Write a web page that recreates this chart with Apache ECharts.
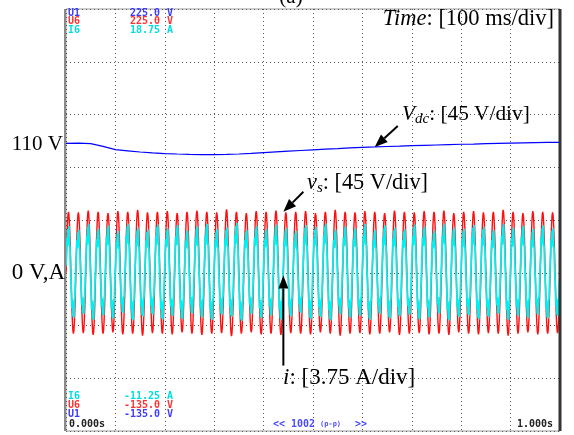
<!DOCTYPE html>
<html>
<head>
<meta charset="utf-8">
<script src="https://cdn.jsdelivr.net/npm/echarts@6/dist/echarts.min.js"></script>
<style>
  html, body { margin: 0; padding: 0; background: #ffffff; }
  #chart { width: 574px; height: 435px; }
</style>
</head>
<body>
<div id="chart"></div>
<script>
// Screen: 10 time divisions of 100 ms, 8 vertical divisions
const timeRangeMs = [0, 1000];
const timeDivMs = 100;
const voltRange = [-135, 225];     // U1 (Vdc) and U6 (vs), 45 V/div
const voltDiv = 45;
const currentRange = [-11.25, 18.75]; // I6 (i), 3.75 A/div
const currentDiv = 3.75;

// One 50 Hz period of the source voltage vs, sampled every 1 ms (V)
const vsCycle = [0, 16.1, 30.6, 42.1, 49.5, 52.0, 49.5, 42.1, 30.6, 16.1,
                 0, -16.1, -30.6, -42.1, -49.5, -52.0, -49.5, -42.1, -30.6, -16.1];
// Peak gain of vs for each of the 50 periods on screen
const vsCycleGain = [1.00, 0.99, 1.02, 1.00, 0.98, 1.01, 1.00, 1.03, 0.99, 1.00,
                     1.01, 0.98, 1.00, 1.02, 1.00, 0.99, 1.04, 1.00, 0.98, 1.01,
                     1.00, 1.02, 0.99, 1.00, 1.01, 0.98, 1.00, 1.03, 1.00, 0.99,
                     1.01, 1.00, 0.98, 1.02, 1.00, 0.99, 1.01, 1.00, 1.02, 0.98,
                     1.00, 1.01, 0.99, 1.00, 1.03, 1.00, 0.98, 1.01, 1.00, 0.99];

// One period of the line current i with its switching ripple, every 1 ms (A)
const iCycle = [0.5, 1.4, 2.5, 1.9, 3.1, 2.4, 3.3, 2.0, 1.8, 0.4,
                -0.5, -1.4, -2.5, -1.9, -3.1, -2.4, -3.2, -2.0, -1.7, -0.4];
// Peak gain of i for each of the 50 periods on screen
const iCycleGain = [1.00, 0.92, 1.05, 0.95, 1.02, 0.90, 1.06, 0.97, 0.93, 1.04,
                    0.96, 1.03, 0.91, 1.00, 1.05, 0.94, 0.98, 1.07, 0.92, 1.01,
                    0.95, 1.04, 0.97, 0.90, 1.03, 0.99, 1.06, 0.93, 1.00, 0.96,
                    1.05, 0.92, 1.02, 0.97, 0.94, 1.04, 1.00, 0.91, 1.06, 0.98,
                    0.95, 1.03, 0.99, 0.92, 1.05, 0.97, 1.01, 0.94, 1.02, 0.96];

// DC-link voltage Vdc every 25 ms (V)
const vdcStepMs = 25;
const vdcValues = [110.4, 110.5, 110.1, 107.8, 105.0, 104.0, 103.0, 102.2, 101.7, 101.3,
                   101.0, 100.8, 100.8, 101.0, 101.3, 101.8, 102.5, 103.1, 103.7, 104.3,
                   104.9, 105.4, 105.9, 106.5, 107.0, 107.3, 107.7, 108.0, 108.4, 108.7,
                   109.0, 109.3, 109.6, 109.8, 110.1, 110.4, 110.6, 110.8, 111.0, 111.2, 111.3];

// Assemble the sampled traces
const vsData = [], iData = [], vdcData = [];
for (let c = 0; c < vsCycleGain.length; c++) {
  for (let k = 0; k < vsCycle.length; k++) {
    const t = c * vsCycle.length + k;
    vsData.push([t, +(vsCycle[k] * vsCycleGain[c]).toFixed(2)]);
    iData.push([t, +(iCycle[k] * iCycleGain[c]).toFixed(3)]);
  }
}
vdcValues.forEach((v, n) => vdcData.push([n * vdcStepMs, v]));

const serif = '"Liberation Serif", "Times New Roman", serif';
const mono = '"DejaVu Sans Mono", "Liberation Mono", monospace';
const gridLine = { show: true, lineStyle: { color: '#555', width: 1, type: [1, 3] } };

const chart = echarts.init(document.getElementById('chart'), null, { renderer: 'canvas' });

chart.setOption({
  animation: false,
  backgroundColor: '#ffffff',
  grid: { left: 66, right: 14, top: 9, bottom: 4, show: true, borderColor: '#9a9a9a', borderWidth: 1 },
  xAxis: {
    type: 'value', min: timeRangeMs[0], max: timeRangeMs[1], interval: timeDivMs,
    axisLine: { show: false }, axisTick: { show: false }, axisLabel: { show: false },
    splitLine: gridLine
  },
  yAxis: [
    {
      type: 'value', min: voltRange[0], max: voltRange[1], interval: voltDiv,
      axisLine: { show: false }, axisTick: { show: false }, axisLabel: { show: false },
      splitLine: gridLine
    },
    {
      type: 'value', min: currentRange[0], max: currentRange[1], interval: currentDiv,
      axisLine: { show: false }, axisTick: { show: false }, axisLabel: { show: false },
      splitLine: { show: false }
    }
  ],
  series: [
    {
      name: 'U6', type: 'line', yAxisIndex: 0, data: vsData, showSymbol: false, z: 2,
      lineStyle: { color: '#ff1010', width: 1.4 }
    },
    {
      name: 'I6', type: 'line', yAxisIndex: 1, data: iData, showSymbol: false, z: 3,
      lineStyle: { color: '#00f0f0', width: 1.8 }
    },
    {
      name: 'U1', type: 'line', yAxisIndex: 0, data: vdcData, showSymbol: false, z: 4,
      lineStyle: { color: '#0000ff', width: 1.2 }
    }
  ]
});

// Arrow from a text label to a point on a trace
function arrow(tip, tail) {
  const dx = tip[0] - tail[0], dy = tip[1] - tail[1];
  const len = Math.hypot(dx, dy), ux = dx / len, uy = dy / len;
  const head = 13, half = 5;
  const bx = tip[0] - ux * head, by = tip[1] - uy * head;
  return [
    { type: 'line', shape: { x1: tail[0], y1: tail[1], x2: bx, y2: by },
      style: { stroke: '#000', lineWidth: 2 }, z: 20 },
    { type: 'polygon', shape: { points: [tip, [bx - uy * half, by + ux * half], [bx + uy * half, by - ux * half]] },
      style: { fill: '#000' }, z: 20 }
  ];
}
const px = (t, v, yi) => chart.convertToPixel({ xAxisIndex: 0, yAxisIndex: yi }, [t, v]);

const vdcTip = px(625, vdcValues[25], 0);
const vsTip = px(440, 52, 0);
const iTip = px(440, -0.2, 1);

function txt(text, x, y, opts) {
  return Object.assign({ type: 'text', z: 30,
    style: Object.assign({ text, x, y, fill: '#000', fontFamily: serif, fontSize: 21,
      align: 'left', verticalAlign: 'middle' }, opts || {}) });
}
function monoTxt(text, x, y, color, align, size) {
  return { type: 'text', z: 30, style: { text, x, y, fill: color, fontFamily: mono, fontSize: size || 10,
    fontWeight: 'bold', align: align || 'left', verticalAlign: 'middle' } };
}
function labelRich(size) {
  return {
    it: { fontStyle: 'italic', fontSize: size, fontFamily: serif, lineHeight: 24 },
    n: { fontSize: size, fontFamily: serif, lineHeight: 24 },
    sub: { fontStyle: 'italic', fontSize: 15, fontFamily: serif, lineHeight: 15, padding: [10, 0, 0, 0] }
  };
}

const blue = '#3c3cff', red = '#ff3232', cyan = '#00dede';

chart.setOption({
  graphic: [
    // screen frame edges
    { type: 'line', shape: { x1: 560, y1: 9, x2: 560, y2: 431 }, style: { stroke: '#333', lineWidth: 3 }, z: 10 },
    { type: 'line', shape: { x1: 65, y1: 9, x2: 65, y2: 431 }, style: { stroke: '#8a8a8a', lineWidth: 2 }, z: 10 },

    txt('(a)', 291, 8, { align: 'center', verticalAlign: 'bottom' }),
    txt('{it|Time}{n|: [100 ms/div]}', 554, 19, { align: 'right', rich: labelRich(22.5) }),
    txt('110 V', 63, 144, { align: 'right' }),
    txt('0 V,A', 65, 273, { align: 'right', fontSize: 23 }),
    txt('{it|V}{sub|dc}{n|: [45 V/div]}', 402, 114, { rich: labelRich(21.3) }),
    txt('{it|v}{sub|s}{n|: [45 V/div]}', 307, 183, { rich: labelRich(22.3) }),
    txt('{it|i}{n|: [3.75 A/div]}', 283, 378, { rich: labelRich(23) }),

    ...arrow(vdcTip, [vdcTip[0] + 23, vdcTip[1] - 21]),
    ...arrow(vsTip, [vsTip[0] + 20, vsTip[1] - 20]),
    ...arrow(iTip, [iTip[0], iTip[1] + 90]),

    monoTxt('U1', 68, 13, blue), monoTxt('225.0', 160, 13, blue, 'right'), monoTxt('V', 167, 13, blue),
    monoTxt('U6', 68, 21.5, red), monoTxt('225.0', 160, 21.5, red, 'right'), monoTxt('V', 167, 21.5, red),
    monoTxt('I6', 68, 30, cyan), monoTxt('18.75', 160, 30, cyan, 'right'), monoTxt('A', 167, 30, cyan),

    monoTxt('I6', 68, 396, cyan), monoTxt('-11.25', 160, 396, cyan, 'right'), monoTxt('A', 167, 396, cyan),
    monoTxt('U6', 68, 405, red), monoTxt('-135.0', 160, 405, red, 'right'), monoTxt('V', 167, 405, red),
    monoTxt('U1', 68, 414, blue), monoTxt('-135.0', 160, 414, blue, 'right'), monoTxt('V', 167, 414, blue),
    monoTxt('0.000s', 69, 424, '#222'),
    monoTxt('<< 1002', 273, 424, '#4a4aff'),
    monoTxt('(p-p)', 320, 424.5, '#4a4aff', 'left', 7),
    monoTxt('>>', 355, 424, '#4a4aff'),
    monoTxt('1.000s', 553, 424, '#222', 'right')
  ]
});
</script>
</body>
</html>
